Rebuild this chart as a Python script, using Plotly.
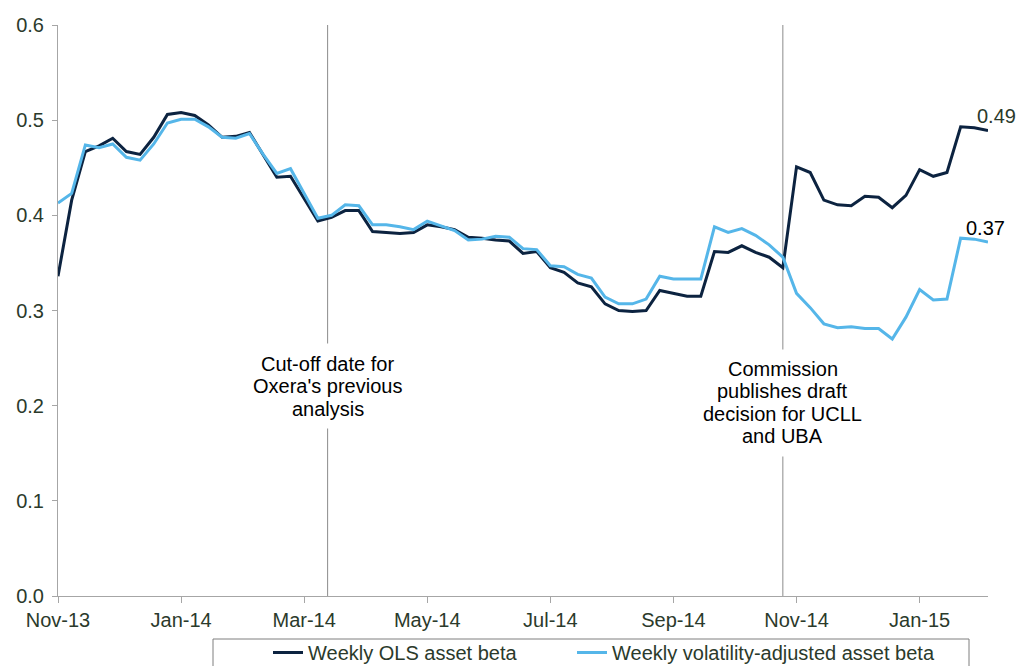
import pandas as pd
import plotly.graph_objects as go

# Weekly observations, one per Friday
week_dates = pd.date_range("2013-11-01", periods=69, freq="7D")

ols_beta = [
    0.336, 0.416, 0.467, 0.473, 0.481, 0.467, 0.464, 0.482, 0.506, 0.508,
    0.505, 0.495, 0.482, 0.483, 0.487, 0.463, 0.440, 0.441, 0.418, 0.394,
    0.398, 0.405, 0.405, 0.383, 0.382, 0.381, 0.382, 0.390, 0.388, 0.385,
    0.377, 0.376, 0.374, 0.373, 0.360, 0.362, 0.345, 0.340, 0.329, 0.325,
    0.307, 0.300, 0.299, 0.300, 0.321, 0.318, 0.315, 0.315, 0.362, 0.361,
    0.368, 0.361, 0.356, 0.345, 0.451, 0.445, 0.416, 0.411, 0.410, 0.420,
    0.419, 0.408, 0.421, 0.448, 0.441, 0.445, 0.493, 0.492, 0.489,
]

vol_adj_beta = [
    0.413, 0.423, 0.474, 0.471, 0.475, 0.461, 0.458, 0.475, 0.497, 0.501,
    0.501, 0.493, 0.482, 0.481, 0.486, 0.464, 0.444, 0.449, 0.423, 0.397,
    0.400, 0.411, 0.410, 0.390, 0.390, 0.388, 0.385, 0.394, 0.389, 0.384,
    0.374, 0.375, 0.378, 0.377, 0.365, 0.364, 0.347, 0.346, 0.338, 0.334,
    0.314, 0.307, 0.307, 0.312, 0.336, 0.333, 0.333, 0.333, 0.388, 0.382,
    0.386, 0.379, 0.369, 0.356, 0.318, 0.303, 0.286, 0.282, 0.283, 0.281,
    0.281, 0.270, 0.293, 0.322, 0.311, 0.312, 0.376, 0.375, 0.372,
]

series_names = ["Weekly OLS asset beta", "Weekly volatility-adjusted asset beta"]

# x-axis labels every nine weeks
tick_dates = week_dates[::9]
tick_labels = ["Nov-13", "Jan-14", "Mar-14", "May-14", "Jul-14", "Sep-14", "Nov-14", "Jan-15"]

y_ticks = [0.0, 0.1, 0.2, 0.3, 0.4, 0.5, 0.6]

# Event markers and their captions
cutoff_date = "2014-03-19"
cutoff_text = ["Cut-off date for", "Oxera's previous", "analysis"]
cutoff_label_y = 0.2203

commission_date = "2014-11-07"
commission_text = ["Commission", "publishes draft", "decision for UCLL", "and UBA"]
commission_label_y = 0.2033

DARK = "#0c2340"
LIGHT = "#55b6e9"
AXIS_TEXT = "#2b3a2b"
GREY = "#8c8c8c"
FONT = "Liberation Sans, Arial, sans-serif"

W, H = 1016, 666
L, R, T, B = 58, 28, 25, 70
plot_w = W - L - R
plot_h = H - T - B


def px_to_paper_x(px):
    return (px - L) / plot_w


def px_to_paper_y(py):
    return (H - B - py) / plot_h


fig = go.Figure()

fig.add_trace(go.Scatter(
    x=week_dates, y=ols_beta, mode="lines", name=series_names[0],
    line=dict(color=DARK, width=3), legend="legend",
))
fig.add_trace(go.Scatter(
    x=week_dates, y=vol_adj_beta, mode="lines", name=series_names[1],
    line=dict(color=LIGHT, width=3), legend="legend2",
))

# Vertical event lines
for d in (cutoff_date, commission_date):
    fig.add_shape(
        type="line", xref="x", yref="y", x0=d, x1=d, y0=0, y1=0.6,
        line=dict(color=GREY, width=1), layer="below",
    )

LINE_STEP = 22.5


def add_caption(date, lines, y_center):
    n = len(lines)
    # white backing so the event line is broken behind the caption
    fig.add_annotation(
        x=date, y=y_center, xref="x", yref="y", text=" ", showarrow=False,
        width=30, height=n * LINE_STEP + 14, bgcolor="white",
    )
    for i, t in enumerate(lines):
        fig.add_annotation(
            x=date, y=y_center, xref="x", yref="y", text=t, showarrow=False,
            yshift=((n - 1) / 2 - i) * LINE_STEP,
            font=dict(family=FONT, size=20, color="black"),
        )


add_caption(cutoff_date, cutoff_text, cutoff_label_y)
add_caption(commission_date, commission_text, commission_label_y)

# Latest values at the line ends
fig.add_annotation(
    x=week_dates[-1], y=ols_beta[-1], text=f"{ols_beta[-1]:.2f}",
    showarrow=False, xanchor="left", xshift=-13, yshift=15,
    font=dict(family=FONT, size=20, color=AXIS_TEXT),
)
fig.add_annotation(
    x=week_dates[-1], y=vol_adj_beta[-1], text=f"{vol_adj_beta[-1]:.2f}",
    showarrow=False, xanchor="left", xshift=-24, yshift=14,
    font=dict(family=FONT, size=20, color="black"),
)

# Legend frame
fig.add_shape(
    type="rect", xref="paper", yref="paper",
    x0=px_to_paper_x(213), x1=px_to_paper_x(969),
    y0=px_to_paper_y(700), y1=px_to_paper_y(639),
    line=dict(color="#7f7f7f", width=1), fillcolor="rgba(0,0,0,0)",
)

legend_common = dict(
    orientation="h", xanchor="left", yanchor="top",
    y=px_to_paper_y(633),
    bgcolor="rgba(0,0,0,0)", borderwidth=0,
    font=dict(family=FONT, size=20, color=AXIS_TEXT),
    itemwidth=30,
)

fig.update_layout(
    width=W, height=H,
    margin=dict(l=L, r=R, t=T, b=B, pad=0, autoexpand=False),
    paper_bgcolor="white", plot_bgcolor="white",
    font=dict(family=FONT, size=20, color=AXIS_TEXT),
    showlegend=True,
    legend=dict(x=px_to_paper_x(268), **legend_common),
    legend2=dict(x=px_to_paper_x(572), **legend_common),
    xaxis=dict(
        type="date", range=[week_dates[0], week_dates[-1]],
        tickvals=tick_dates, ticktext=tick_labels,
        showgrid=False, zeroline=False,
        showline=True, linecolor="#a6a6a6", linewidth=1,
        ticks="outside", ticklen=6, tickcolor="#a6a6a6",
        tickfont=dict(family=FONT, size=20, color=AXIS_TEXT),
    ),
    yaxis=dict(
        range=[0, 0.6], tickvals=y_ticks, tickformat=".1f",
        showgrid=False, zeroline=False,
        showline=True, linecolor="#a6a6a6", linewidth=1,
        ticks="outside", ticklen=5, tickcolor="#a6a6a6",
        ticklabelstandoff=4,
        tickfont=dict(family=FONT, size=20, color=AXIS_TEXT),
    ),
)

fig.write_html("out.html")
